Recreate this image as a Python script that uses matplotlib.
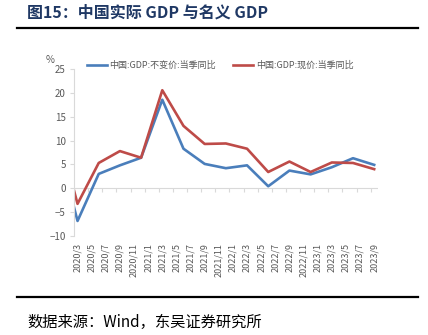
import numpy as np
import matplotlib
matplotlib.use("Agg")
import matplotlib.pyplot as plt

plt.rcParams['font.family'] = ['Noto Sans CJK SC', 'DejaVu Sans']

# months counted from 2020/3, first point is where the line enters the frame
months = [-0.5, 0, 3, 6, 9, 12, 15, 18, 21, 24, 27, 30, 33, 36, 39, 42]
real_gdp = [-4.0, -6.9, 3.0, 4.8, 6.4, 18.6, 8.3, 5.1, 4.2, 4.8, 0.4, 3.7, 2.9, 4.4, 6.3, 4.9]
nominal_gdp = [-0.5, -3.3, 5.3, 7.8, 6.4, 20.6, 13.1, 9.3, 9.4, 8.3, 3.4, 5.6, 3.4, 5.4, 5.3, 4.0]

tick_labels = ['2020/3', '2020/5', '2020/7', '2020/9', '2020/11', '2021/1', '2021/3', '2021/5',
               '2021/7', '2021/9', '2021/11', '2022/1', '2022/3', '2022/5', '2022/7', '2022/9',
               '2022/11', '2023/1', '2023/3', '2023/5', '2023/7', '2023/9']
tick_pos = np.arange(len(tick_labels)) * 2

label_real = '中国:GDP:不变价:当季同比'
label_nom = '中国:GDP:现价:当季同比'

blue = '#4A7EBB'
red = '#BE4B48'
gray = '#595959'
light = '#D9D9D9'

fig = plt.figure(figsize=(4.28, 3.35), dpi=100)
ax = fig.add_axes([0.1729, 0.2964, 0.7096, 0.4967])

ax.plot(months, real_gdp, color=blue, lw=1.9, label=label_real, clip_on=True)
ax.plot(months, nominal_gdp, color=red, lw=1.9, label=label_nom, clip_on=True)

ax.set_xlim(-0.5, 42.5)
ax.set_ylim(-10, 25)
ax.set_yticks(np.arange(-10, 26, 5))

# x axis line at zero with small tick marks between categories
ax.axhline(0, color=light, lw=0.8, zorder=0)
ax.vlines(np.arange(-0.5, 42, 2), -0.8, 0, color=light, lw=0.8, zorder=0)

for s in ['top', 'right', 'bottom']:
    ax.spines[s].set_visible(False)
ax.spines['left'].set_color(light)
ax.spines['left'].set_linewidth(0.8)

ax.set_xticks(tick_pos)
ax.set_xticklabels(tick_labels, rotation=90, fontsize=6.5, color=gray)
ax.tick_params(axis='x', length=0, pad=5)
ax.tick_params(axis='y', length=3, color=light, labelsize=7, labelcolor=gray, pad=3)

ax.text(-0.095, 1.025, '%', transform=ax.transAxes, fontsize=7, color=gray, ha='left', va='bottom')

ax.legend(loc='lower left', bbox_to_anchor=(0.03, 0.975), ncol=2, frameon=False,
          fontsize=6.5, labelcolor=gray, handlelength=2.2, handletextpad=0.3,
          columnspacing=1.9, borderaxespad=0)

# title, rules, source
fig.text(27 / 428, 1 - 13 / 335, '图15：中国实际 GDP 与名义 GDP', fontsize=11.5,
         fontweight='bold', color='#1F3864', ha='left', va='center')
fig.add_artist(plt.Line2D([17 / 428, 418 / 428], [1 - 28 / 335] * 2, color='black', lw=1.6))
fig.add_artist(plt.Line2D([17 / 428, 418 / 428], [1 - 297 / 335] * 2, color='black', lw=1.6))
fig.text(27 / 428, 1 - 322 / 335, '数据来源：Wind，东吴证券研究所', fontsize=11,
         color='black', ha='left', va='center')

fig.savefig('out.png', dpi=100)
